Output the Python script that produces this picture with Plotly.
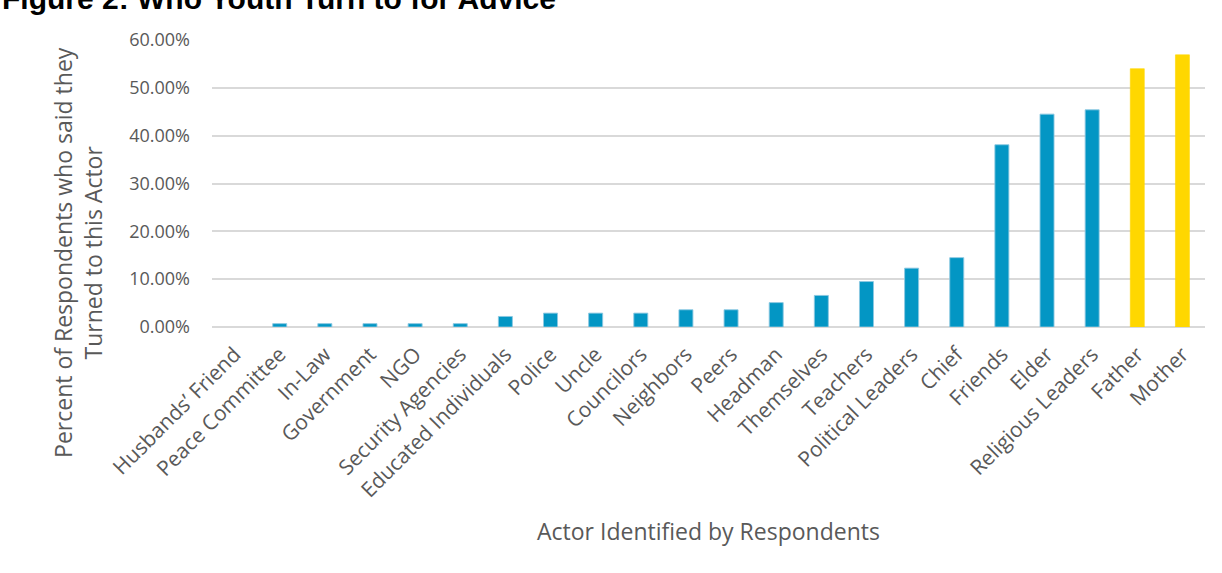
import plotly.graph_objects as go

# Actors named by respondents, ordered by share
actors = [
    "Husbands’ Friend", "Peace Committee", "In-Law", "Government", "NGO",
    "Security Agencies", "Educated Individuals", "Police", "Uncle", "Councilors",
    "Neighbors", "Peers", "Headman", "Themselves", "Teachers",
    "Political Leaders", "Chief", "Friends", "Elder", "Religious Leaders",
    "Father", "Mother",
]
# Share of respondents who turned to each actor (fraction)
share = [
    0.000, 0.007, 0.007, 0.007, 0.007,
    0.007, 0.022, 0.029, 0.029, 0.029,
    0.036, 0.036, 0.051, 0.066, 0.095,
    0.123, 0.145, 0.381, 0.445, 0.454,
    0.540, 0.569,
]
# Parents are highlighted
highlight = ["Father", "Mother"]

BLUE = "#0396C4"
YELLOW = "#FFD700"
colors = [YELLOW if a in highlight else BLUE for a in actors]
edges = [
    "rgba(255,215,0,0.6)" if a in highlight
    else ("rgba(0,0,0,0)" if v == 0 else "rgba(140,200,225,0.9)")
    for a, v in zip(actors, share)
]

FONT = "Open Sans, Calibri, sans-serif"
GREY = "#595959"

fig = go.Figure(
    go.Bar(
        x=actors,
        y=share,
        marker=dict(color=colors, line=dict(color=edges, width=1)),
    )
)

fig.update_layout(
    width=1222,
    height=573,
    margin=dict(l=212, r=17, t=40, b=246),
    plot_bgcolor="white",
    paper_bgcolor="white",
    bargap=0.69,
    showlegend=False,
    font=dict(family=FONT, color=GREY),
)

fig.update_xaxes(
    tickangle=-45,
    tickfont=dict(family=FONT, size=21, color=GREY),
    ticklabelstandoff=10,
    showgrid=False,
    showline=False,
    ticks="",
)
fig.update_yaxes(
    range=[0, 0.6],
    tickvals=[0, 0.1, 0.2, 0.3, 0.4, 0.5, 0.6],
    tickformat=".2%",
    tickfont=dict(family=FONT, size=18, color=GREY),
    ticklabelstandoff=21,
    showgrid=True,
    gridcolor="#D9D9D9",
    gridwidth=1.5,
    zeroline=True,
    zerolinecolor="#D9D9D9",
    zerolinewidth=2,
    showline=False,
    ticks="",
)

fig.add_annotation(
    text="Percent of Respondents who said they<br>Turned to this Actor",
    textangle=-90,
    xref="paper", yref="paper",
    x=0, y=0.258,
    xanchor="center", yanchor="middle",
    xshift=-134,
    showarrow=False,
    font=dict(family=FONT, size=23, color=GREY),
)
fig.add_annotation(
    text="Actor Identified by Respondents",
    xref="paper", yref="paper",
    x=0.5, y=-0.711,
    xanchor="center", yanchor="middle",
    showarrow=False,
    font=dict(family=FONT, size=23, color=GREY),
)
fig.add_annotation(
    text="<b>Figure 2: Who Youth Turn to for Advice</b>",
    xref="paper", yref="paper",
    x=0, y=1,
    xanchor="left", yanchor="middle",
    xshift=-212, yshift=42,
    showarrow=False,
    font=dict(family="Liberation Sans, Arial, sans-serif", size=30, color="black"),
)

fig.write_html("out.html")
